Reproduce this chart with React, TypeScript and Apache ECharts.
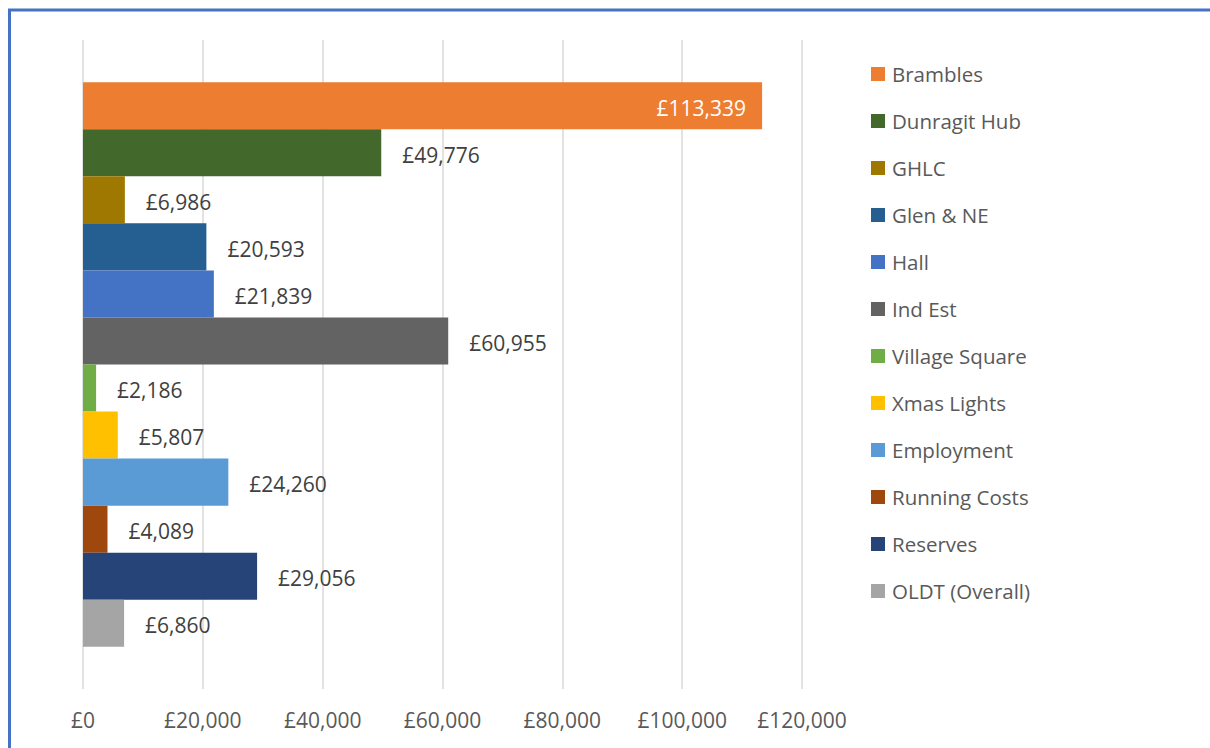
import React, { useEffect, useRef } from "react";
import * as echarts from "echarts";

const seriesNames = [
  "Brambles",
  "Dunragit Hub",
  "GHLC",
  "Glen & NE",
  "Hall",
  "Ind Est",
  "Village Square",
  "Xmas Lights",
  "Employment",
  "Running Costs",
  "Reserves",
  "OLDT (Overall)",
];
const seriesValues = [113339, 49776, 6986, 20593, 21839, 60955, 2186, 5807, 24260, 4089, 29056, 6860];
const seriesColors = [
  "#ED7D31",
  "#43682B",
  "#9E7800",
  "#255E91",
  "#4472C4",
  "#636363",
  "#70AD47",
  "#FFC000",
  "#5B9BD5",
  "#9E480E",
  "#264478",
  "#A5A5A5",
];
const categories = ["Total"];

const FONT = "'Open Sans', sans-serif";
const fmt = (v: number) => "£" + v.toLocaleString("en-GB");

export default function App() {
  const ref = useRef<HTMLDivElement>(null);
  useEffect(() => {
    if (!ref.current) return;
    const chart = echarts.init(ref.current, null, { renderer: "svg" });
    chart.setOption({
      animation: false,
      backgroundColor: "#ffffff",
      grid: { left: 83, right: 408, top: 40, bottom: 59, containLabel: false },
      xAxis: {
        type: "value",
        min: 0,
        max: 120000,
        interval: 20000,
        axisLine: { show: false },
        axisTick: { show: false },
        splitLine: { show: true, lineStyle: { color: "#d9d9d9", width: 1.5 } },
        axisLabel: {
          color: "#595959",
          fontFamily: FONT,
          fontSize: 21,
          margin: 20,
          formatter: (v: number) => fmt(v),
        },
      },
      yAxis: {
        type: "category",
        data: categories,
        inverse: true,
        axisLine: { show: false },
        axisTick: { show: false },
        axisLabel: { show: false },
        splitLine: { show: false },
      },
      legend: {
        orient: "vertical",
        left: 866,
        top: 58,
        itemWidth: 14,
        itemHeight: 14,
        itemGap: 25,
        icon: "rect",
        data: seriesNames,
        textStyle: {
          color: "#595959",
          fontFamily: FONT,
          fontSize: 20.5,
          lineHeight: 22,
          padding: [0, 0, 0, 2],
        },
      },
      series: seriesNames.map((name, i) => ({
        name,
        type: "bar",
        data: [seriesValues[i]],
        barGap: "0%",
        barCategoryGap: "13%",
        itemStyle: { color: seriesColors[i] },
        label: {
          show: true,
          position: i === 0 ? "insideRight" : "right",
          distance: i === 0 ? 16 : 21,
          offset: [0, 2],
          color: i === 0 ? "#ffffff" : "#404040",
          fontFamily: FONT,
          fontSize: 21,
          formatter: (p: any) => fmt(p.value),
        },
      })),
      graphic: [
        {
          type: "line",
          shape: { x1: 8, y1: 10, x2: 1210, y2: 10 },
          style: { stroke: "#4472C4", lineWidth: 3 },
        },
        {
          type: "line",
          shape: { x1: 9.5, y1: 9, x2: 9.5, y2: 748 },
          style: { stroke: "#4472C4", lineWidth: 3 },
        },
      ],
    });
    return () => chart.dispose();
  }, []);
  return (
    <div
      ref={ref}
      style={{ position: "fixed", left: 0, top: 0, width: 1210, height: 748 }}
    />
  );
}
